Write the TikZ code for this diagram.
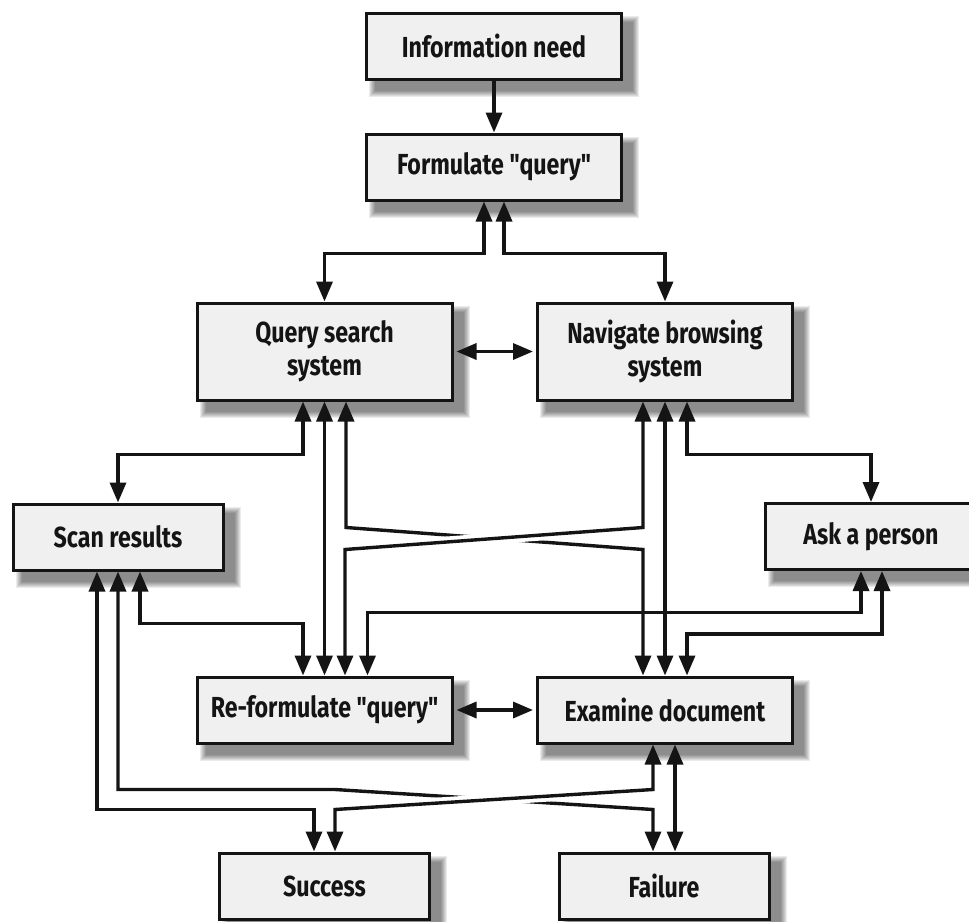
\documentclass[tikz,border=0pt]{standalone}
\usepackage{fontspec}
\newfontfamily\boxfont{Fira Sans}[FakeStretch=0.8]
\usetikzlibrary{arrows.meta,backgrounds}
\definecolor{boxfill}{RGB}{240,240,240}
\definecolor{ink}{RGB}{20,20,20}
\begin{document}
\begin{tikzpicture}[x=1pt,y=-1pt,
  box/.style={draw=ink, line width=3pt, fill=boxfill, inner sep=0pt, align=center,
    minimum height=66pt, font=\boxfont\bfseries\fontsize{29}{33}\selectfont, text=ink},
  wide/.style={box, minimum width=255pt},
  narrow/.style={box, minimum width=210pt},
  tall/.style={minimum height=97pt},
  hd/.tip={Triangle[length=20pt,width=16pt]},
  conn/.style={draw=ink, line width=3.4pt, line join=miter},
  both/.style={conn, hd-hd},
  one/.style={conn, -hd},
  halo/.style={draw=white, line width=11pt, shorten <=25pt, shorten >=25pt},
]
\useasboundingbox (0,0) rectangle (969,921);
\clip (0,0) rectangle (969,921);

% boxes
\node[wide] (info) at (494,46) {Information need};
\node[wide] (form) at (494,167) {Formulate "query"};
\node[wide,tall] (query) at (324.5,351.5) {Query search\\system};
\node[wide,tall] (nav) at (665,351.5) {Navigate browsing\\system};
\node[narrow] (scan) at (118,537) {Scan results};
\node[box,minimum width=212pt] (ask) at (871,536.5) {Ask a person};
\node[wide] (reform) at (324.5,710) {Re-formulate "query"};
\node[wide] (exam) at (665,710) {Examine document};
\node[narrow] (succ) at (324.5,886) {Success};
\node[narrow] (fail) at (664,886) {Failure};

% shadows
\begin{scope}[on background layer]
  \fill[white] (0,0) rectangle (969,921);
  \foreach \n in {info,form,query,nav,scan,ask,reform,exam,succ,fail}{
    \foreach \i in {0,...,6}{
      \fill[black,opacity=0.08] ([shift={(10-\i,10-\i)}]\n.north west) rectangle ([shift={(10+\i,10+\i)}]\n.south east);
    }
  }
\end{scope}

% connectors
\draw[one] (info.south) -- (form.north);
\draw[both] ([xshift=-10pt]form.south) -- ++(0,52) -| (query.north);
\draw[both] ([xshift=10pt]form.south) -- ++(0,52) -| (nav.north);
\draw[both, shorten <=3pt, shorten >=3pt] (query) -- (nav);

\draw[both] ([xshift=-21.5pt]query.south) -- ++(0,53) -| (scan.north);
\draw[both] (query.south) -- (reform.north);
\draw[both] ([xshift=21.5pt]query.south) -- ++(0,126) -- ++(297,22) -- ([xshift=-22pt]exam.north);
\draw[halo] ([xshift=-22pt]nav.south) ++(0,126) -- ++(-298,22);
\draw[both] ([xshift=-22pt]nav.south) -- ++(0,126) -- ++(-298,22) -- ([xshift=20.5pt]reform.north);
\draw[both] (nav.south) -- (exam.north);
\draw[both] ([xshift=22pt]nav.south) -- ++(0,53) -| (ask.north);

\draw[both] ([xshift=22pt]scan.south) -- ++(0,52) -| ([xshift=-21.5pt]reform.north);
\draw[both] ([xshift=-10pt]ask.south) -- ++(0,41.5) -| ([xshift=43pt]reform.north);
\draw[both] ([xshift=11pt]ask.south) -- ++(0,63) -| ([xshift=22pt]exam.north);
\draw[both, shorten <=3pt, shorten >=3pt] (reform) -- (exam);

\draw[both] ([xshift=-21pt]scan.south) -- ++(0,238) -| ([xshift=-10.5pt]succ.north);
\draw[both] (scan.south) -- ++(0,218) -- ++(217,0) -- ++(318,20) -- ([xshift=-11pt]fail.north);
\draw[halo] ([xshift=-12pt]exam.south) ++(0,45) -- ++(-318,20);
\draw[both] ([xshift=-12pt]exam.south) -- ++(0,45) -- ++(-318,20) -- ([xshift=10.5pt]succ.north);
\draw[both] ([xshift=10pt]exam.south) -- ([xshift=11pt]fail.north);
\end{tikzpicture}
\end{document}
